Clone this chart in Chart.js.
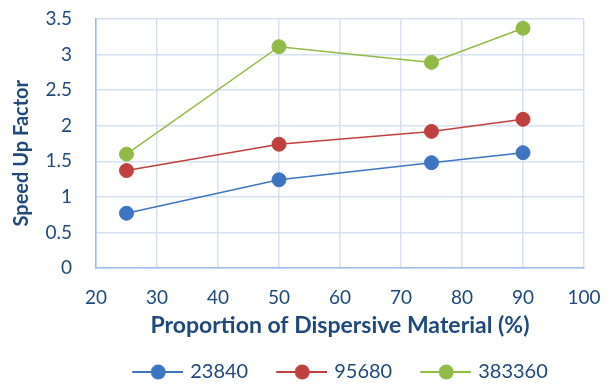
<!DOCTYPE html>
<html>
<head>
<meta charset="utf-8">
<script src="https://cdn.jsdelivr.net/npm/chart.js@4"></script>
<style>
  body { margin: 0; background: #fff; }
  #wrap { width: 609px; height: 386px; }
</style>
</head>
<body>
<div id="wrap"><canvas id="speedChart" width="609" height="386"></canvas></div>
<script>
// data
const proportion = [25, 50, 75, 90];
const s23840 = [0.77, 1.24, 1.48, 1.62];
const s95680 = [1.37, 1.74, 1.92, 2.09];
const s383360 = [1.60, 3.11, 2.89, 3.37];
const seriesNames = ['23840', '95680', '383360'];
const seriesColors = ['#3E75C3', '#C0403D', '#92BB45'];

const xTicks = [20, 30, 40, 50, 60, 70, 80, 90, 100];
const yTicks = [0, 0.5, 1, 1.5, 2, 2.5, 3, 3.5];

const textColor = '#1F497D';
const fontFam = 'Lato, "Open Sans", sans-serif';

function pts(ys) {
  return proportion.map((x, i) => ({ x: x, y: ys[i] }));
}

// legend marker: short line with a dot, blank on the left keeps the items apart
const boxW = 72;
function legendIcon(color) {
  const c = document.createElement('canvas');
  c.width = boxW + 6; c.height = 16;
  const g = c.getContext('2d');
  g.strokeStyle = color;
  g.lineWidth = 2;
  g.beginPath(); g.moveTo(27, 8); g.lineTo(boxW + 6, 8); g.stroke();
  g.fillStyle = color;
  g.beginPath(); g.arc(27 + 26, 8, 7.5, 0, Math.PI * 2); g.fill();
  return c;
}

// nudge the legend to the right, like in the original
const legendShift = {
  id: 'legendShift',
  afterLayout(chart) {
    chart.legend.left += 31;
    chart.legend.right += 31;
  }
};

const allSeries = [s23840, s95680, s383360];
const datasets = allSeries.map((s, i) => ({
  label: seriesNames[i],
  data: pts(s),
  borderColor: seriesColors[i],
  backgroundColor: seriesColors[i],
  borderWidth: 1.5,
  pointRadius: 7,
  pointHoverRadius: 7,
  pointBorderWidth: 1,
  pointBorderColor: seriesColors[i],
  tension: 0,
  clip: false
}));

const ctx = document.getElementById('speedChart').getContext('2d');
new Chart(ctx, {
  type: 'line',
  data: { datasets: datasets },
  plugins: [legendShift],
  options: {
    responsive: false,
    animation: false,
    layout: { autoPadding: false, padding: { left: 10, right: 25, top: 19, bottom: -6 } },
    plugins: {
      tooltip: { enabled: false },
      legend: {
        position: 'bottom',
        labels: {
          color: textColor,
          font: { family: fontFam, size: 20 },
          boxWidth: boxW,
          boxHeight: 16,
          pointStyleWidth: boxW,
          padding: 4,
          usePointStyle: true,
          generateLabels: (chart) => chart.data.datasets.map((d, i) => ({
            text: d.label,
            pointStyle: legendIcon(seriesColors[i]),
            fillStyle: seriesColors[i],
            strokeStyle: seriesColors[i],
            fontColor: textColor,
            lineWidth: 0,
            datasetIndex: i
          }))
        }
      }
    },
    scales: {
      x: {
        type: 'linear',
        min: 20, max: 100,
        afterBuildTicks: (axis) => { axis.ticks = xTicks.map(v => ({ value: v })); },
        afterFit: (axis) => { axis.height = 90; axis.paddingRight = 0; },
        grid: { color: '#D6E2F3', lineWidth: 1.5, drawTicks: false },
        border: { color: '#9DBCE6', width: 1.5 },
        ticks: { color: textColor, font: { family: fontFam, size: 19 }, padding: 18 },
        title: {
          display: true,
          text: 'Proportion of Dispersive Material (%)',
          color: textColor,
          font: { family: fontFam, size: 23, weight: 'bold' },
          padding: { top: 0, bottom: 19 }
        }
      },
      y: {
        min: 0, max: 3.5,
        afterBuildTicks: (axis) => { axis.ticks = yTicks.map(v => ({ value: v })); },
        afterFit: (axis) => { axis.width = 86; axis.paddingTop = 0; },
        grid: { color: '#D6E2F3', lineWidth: 1.5, drawTicks: false },
        border: { color: '#9DBCE6', width: 1.5 },
        ticks: {
          color: textColor,
          font: { family: fontFam, size: 19 },
          padding: 24,
          callback: (v) => String(v)
        },
        title: {
          display: true,
          // trailing spaces push the rotated title down a bit
          text: 'Speed Up Factor    ',
          color: textColor,
          font: { family: fontFam, size: 20, weight: 'bold' },
          padding: { top: 0, bottom: 0 }
        }
      }
    }
  }
});
</script>
</body>
</html>
